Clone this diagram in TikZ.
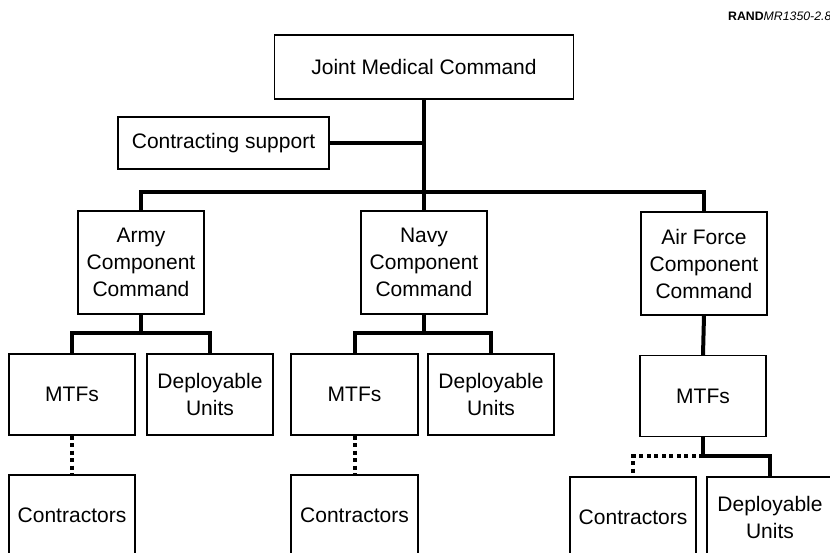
\documentclass[tikz,border=0pt]{standalone}
\usepackage{fontspec}
\setmainfont{Liberation Sans}
\usetikzlibrary{calc}
\begin{document}
\begin{tikzpicture}[x=1pt,y=-1pt,
  box/.style={draw,line width=1.3pt,inner sep=0pt,align=center,
    font=\fontsize{21}{27}\selectfont},
  conn/.style={line width=4pt},
  dotconn/.style={line width=4pt,dash pattern=on 4pt off 3.5pt}]
\useasboundingbox (0,0) rectangle (830,552);
\clip (0,0) rectangle (830,552);
\node[anchor=west,inner sep=0pt,font=\fontsize{12.3}{14}\selectfont] (rand) at (728,16) {\textbf{RAND}\textit{MR1350-2.8}};
\node[box,minimum width=299pt,minimum height=64pt] (jmc) at (424,67) {Joint Medical Command};
\node[box,minimum width=211pt,minimum height=52pt] (cs) at (223.5,143) {Contracting support};
\node[box,minimum width=126pt,minimum height=103pt] (army) at (141,262.5) {Army\\Component\\Command};
\node[box,minimum width=126pt,minimum height=103pt] (navy) at (424,262.5) {Navy\\Component\\Command};
\node[box,minimum width=126pt,minimum height=103pt] (af) at (704,263.5) {Air Force\\Component\\Command};
\node[box,minimum width=126pt,minimum height=81pt] (amtf) at (72,394.5) {MTFs};
\node[box,minimum width=126pt,minimum height=81pt] (adep) at (210,394.5) {Deployable\\Units};
\node[box,minimum width=127pt,minimum height=81pt] (nmtf) at (354.5,394.5) {MTFs};
\node[box,minimum width=126pt,minimum height=81pt] (ndep) at (491,394.5) {Deployable\\Units};
\node[box,minimum width=126pt,minimum height=81pt] (afmtf) at (703,396) {MTFs};
\node[box,minimum width=126pt,minimum height=81pt] (acon) at (72,515.5) {Contractors};
\node[box,minimum width=127pt,minimum height=81pt] (ncon) at (354.5,515.5) {Contractors};
\node[box,minimum width=126pt,minimum height=81pt] (afcon) at (633,517.5) {Contractors};
\node[box,minimum width=126pt,minimum height=81pt] (afdep) at (770,517.5) {Deployable\\Units};
\coordinate (hub) at (424,192);
\coordinate (ab) at (141,333);
\coordinate (nb) at (424,333);
\coordinate (afb) at (703,456);
\draw[conn] (jmc.south) -- (navy.north);
\draw[conn] (cs.east) -- (cs.east -| jmc.south);
\draw[conn] (army.north) |- (hub) -| (af.north);
\draw[conn] (army.south) -- (ab);
\draw[conn] (amtf.north) |- (ab) -| (adep.north);
\draw[conn] (navy.south) -- (nb);
\draw[conn] (nmtf.north) |- (nb) -| (ndep.north);
\draw[conn] (af.south) -- (afmtf.north);
\draw[conn] (afmtf.south) -- (afb) -| (afdep.north);
\draw[dotconn] (afb) -| (afcon.north);
\draw[dotconn] (amtf.south) -- (acon.north);
\draw[dotconn] (nmtf.south) -- (ncon.north);
\end{tikzpicture}
\end{document}
